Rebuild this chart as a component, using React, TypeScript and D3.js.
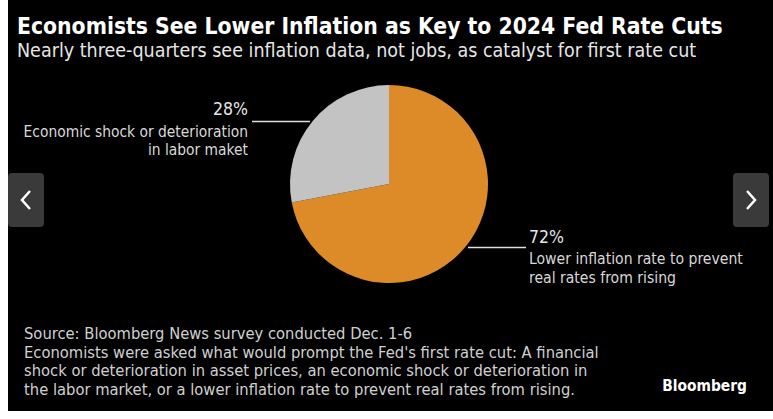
import React from "react";
import * as d3 from "d3";

const categories = ["Lower inflation rate to prevent real rates from rising", "Economic shock or deterioration in labor maket"];
const values = [72, 28];
const labelLines = [
  ["Lower inflation rate to prevent", "real rates from rising"],
  ["Economic shock or deterioration", "in labor maket"],
];
const colors = ["#dc8b28", "#c3c3c3"];
const title = "Economists See Lower Inflation as Key to 2024 Fed Rate Cuts";
const subtitle = "Nearly three-quarters see inflation data, not jobs, as catalyst for first rate cut";
const footnotes = [
  "Source: Bloomberg News survey conducted Dec. 1-6",
  "Economists were asked what would prompt the Fed's first rate cut: A financial",
  "shock or deterioration in asset prices, an economic shock or deterioration in",
  "the labor market, or a lower inflation rate to prevent real rates from rising.",
];

const FONT = "'DejaVu Sans Condensed', sans-serif";

export default function App() {
  const W = 773, H = 419;
  const cx = 389, cy = 184, r = 99;
  const pie = d3.pie<number>().sort(null).startAngle(0).endAngle(2 * Math.PI);
  const arcs = pie(values);
  const arcGen = d3.arc<d3.PieArcDatum<number>>().innerRadius(0).outerRadius(r);
  const fmt = (v: number) => `${v}%`;

  return (
    <svg width={W} height={H} style={{ position: "absolute", left: 0, top: 0 }} fontFamily={FONT}>
      <rect x={0} y={0} width={W} height={H} fill="#ffffff" />
      <rect x={8} y={0} width={W - 8} height={411} fill="#000000" />
      <text x={17} y={34} fill="#ffffff" fontSize={22.7} fontWeight="bold">{title}</text>
      <text x={17} y={57} fill="#e6e6e6" fontSize={19.5}>{subtitle}</text>

      <g transform={`translate(${cx},${cy})`}>
        {arcs.map((a, i) => (
          <path key={categories[i]} d={arcGen(a) || ""} fill={colors[i]} />
        ))}
      </g>

      {/* 28% label (left) */}
      <line x1={252} x2={310} y1={121.5} y2={121.5} stroke="#e0e0e0" strokeWidth={1.3} />
      <text x={248} y={115} textAnchor="end" fill="#e6e6e6" fontSize={17.5}>{fmt(values[1])}</text>
      {labelLines[1].map((l, i) => (
        <text key={l} x={248} y={137 + i * 18} textAnchor="end" fill="#d8d8d8" fontSize={15.4}>{l}</text>
      ))}

      {/* 72% label (right) */}
      <line x1={468} x2={526} y1={247.5} y2={247.5} stroke="#e0e0e0" strokeWidth={1.3} />
      <text x={529} y={243} fill="#e6e6e6" fontSize={17.5}>{fmt(values[0])}</text>
      {labelLines[0].map((l, i) => (
        <text key={l} x={529} y={264 + i * 19} fill="#d8d8d8" fontSize={15.6}>{l}</text>
      ))}

      {footnotes.map((l, i) => (
        <text key={i} x={24} y={339 + i * 18.7} fill="#d0d0d0" fontSize={16.4}>{l}</text>
      ))}
      <text x={747} y={391} textAnchor="end" fill="#ffffff" fontSize={15.4} fontWeight="bold">Bloomberg</text>

      {/* nav buttons */}
      <rect x={8} y={173} width={36} height={54} rx={4} fill="#3a3a3a" />
      <path d="M30,191 L22,200 L30,209" fill="none" stroke="#ffffff" strokeWidth={2.5} />
      <rect x={733} y={173} width={36} height={54} rx={4} fill="#3a3a3a" />
      <path d="M747,191 L755,200 L747,209" fill="none" stroke="#ffffff" strokeWidth={2.5} />
    </svg>
  );
}
